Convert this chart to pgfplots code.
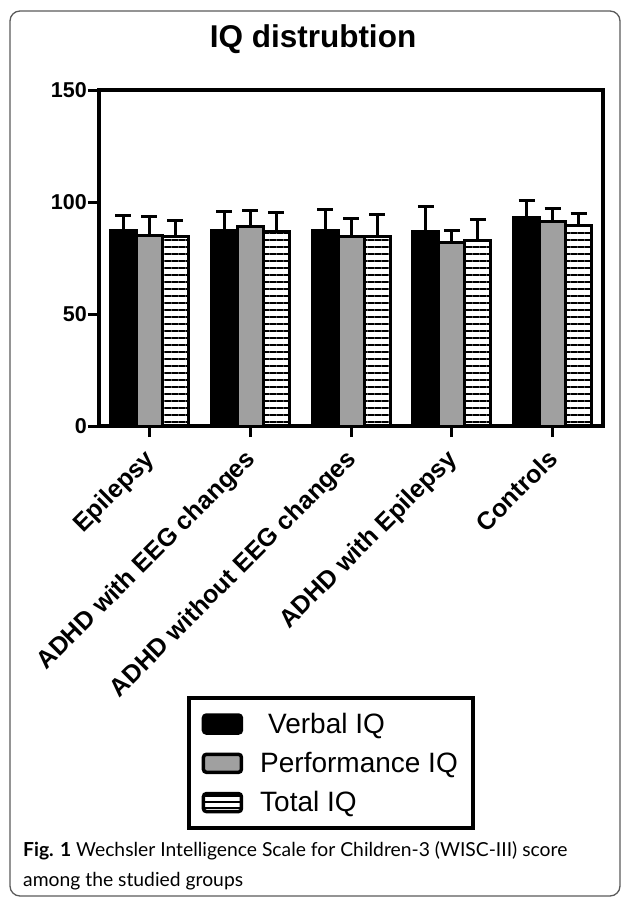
\documentclass[border=0pt]{standalone}
\usepackage{fontspec}
\setmainfont{Liberation Sans}
\newfontfamily\capfont{Lato}
\usepackage{pgfplots}
\pgfplotsset{compat=1.18}
\usetikzlibrary{patterns.meta}
\definecolor{perfgray}{RGB}{160,160,160}
\definecolor{framegray}{RGB}{90,90,90}
\begin{document}
\begin{tikzpicture}[x=1pt,y=1pt]
\useasboundingbox (0,0) rectangle (627,898);
\draw[framegray, line width=1.3pt, rounded corners=10pt] (10,2) rectangle (620,887);
\node[anchor=base, font=\fontsize{31.5}{36}\selectfont\bfseries] at (313,850) {IQ distrubtion};
\begin{axis}[
  at={(99pt,472pt)}, anchor=south west,
  scale only axis, width=504pt, height=336pt,
  xmin=-0.5, xmax=4.5, ymin=0, ymax=150,
  ytick={0,50,100,150},
  xtick={0,1,2,3,4},
  xticklabels={Epilepsy,ADHD with EEG changes,ADHD without EEG changes,ADHD with Epilepsy,Controls},
  /pgf/number format/assume math mode=true,
  axis line style={line width=4.5pt},
  tick style={line width=3pt, black},
  major tick length=11pt,
  tick align=outside,
  xtick pos=lower, ytick pos=left,
  yticklabel style={font=\fontsize{21.5}{24}\selectfont\bfseries, inner sep=1pt},
  xticklabel style={font=\fontsize{25}{28}\selectfont\bfseries, xshift=-6.5pt, yshift=-9pt, rotate=45, anchor=north east, inner sep=1pt},
  ybar=0pt, bar width=26pt,
  error bars/y dir=plus, error bars/y explicit,
  error bars/error bar style={line width=3pt, black},
  error bars/error mark options={line width=3pt, black, mark size=8pt, rotate=90},
  legend style={at={(0.174,-0.804)}, anchor=north west, draw=black, line width=4pt,
    font=\fontsize{28}{30}\selectfont, inner xsep=13pt, inner ysep=13pt,
    /tikz/row sep=13.5pt,
    /tikz/every odd column/.append style={column sep=15pt}},
  legend cell align=left,
]
\addplot[fill=black, draw=black, line width=3pt,
  legend image code/.code={\draw[fill=black, draw=black, line width=3.5pt, rounded corners=3pt] (0pt,-9pt) rectangle (38pt,9pt);}]
  coordinates {(0,87.3) +- (0,6.6) (1,87.3) +- (0,8.3) (2,87.3) +- (0,9.4) (3,86.7) +- (0,11.3) (4,93.2) +- (0,7.5)};
\addplot[fill=perfgray, draw=black, line width=3pt,
  legend image code/.code={\draw[fill=perfgray, draw=black, line width=3.5pt, rounded corners=3pt] (0pt,-9pt) rectangle (38pt,9pt);}]
  coordinates {(0,85.2) +- (0,8.5) (1,88.9) +- (0,7.5) (2,84.5) +- (0,8.0) (3,81.8) +- (0,5.5) (4,91.5) +- (0,5.6)};
\addplot[pattern={Lines[angle=0,distance=7pt,line width=2pt]}, pattern color=black, draw=black, line width=3pt,
  legend image code/.code={\draw[pattern={Lines[angle=0,distance=6pt,line width=1.6pt]}, pattern color=black, draw=black, line width=3.5pt, rounded corners=3pt] (0pt,-9pt) rectangle (38pt,9pt);}]
  coordinates {(0,84.5) +- (0,7.3) (1,87.0) +- (0,8.5) (2,84.5) +- (0,9.8) (3,83.0) +- (0,9.2) (4,89.5) +- (0,5.4)};
\legend{\hspace{8pt}Verbal IQ, Performance IQ, Total IQ}
\end{axis}
\node[anchor=base west, align=left, font=\capfont\fontsize{19.3}{30}\selectfont, inner sep=0pt] at (23,12) {{\bfseries Fig. 1} Wechsler Intelligence Scale for Children-3 (WISC-III) score\\among the studied groups};
\end{tikzpicture}
\end{document}
